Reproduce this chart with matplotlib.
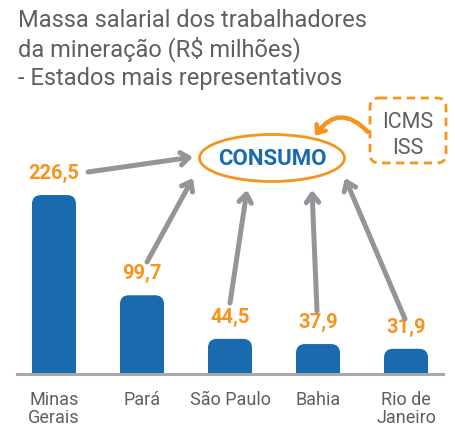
import matplotlib
matplotlib.use("Agg")
import matplotlib.pyplot as plt
from matplotlib.patches import FancyBboxPatch, Ellipse, FancyArrowPatch

categories = ["Minas\nGerais", "Pará", "São Paulo", "Bahia", "Rio de\nJaneiro"]
values = [226.5, 99.7, 44.5, 37.9, 31.9]
value_labels = ["226,5", "99,7", "44,5", "37,9", "31,9"]
title_lines = ["Massa salarial dos trabalhadores",
               "da mineração (R$ milhões)",
               "- Estados mais representativos"]

BLUE = "#1A6AB0"
ORANGE = "#F7941D"
GRAY_ARROW = "#939598"
GRAY_TEXT = "#5E5F61"
FONT = "Roboto"

W, H = 456, 432
fig = plt.figure(figsize=(W / 100, H / 100), dpi=100)
fig.patch.set_facecolor("white")

# data axes
base_px = 374
ax = fig.add_axes([17 / W, (H - base_px) / H, (443 - 17) / W, base_px / H])
ax.set_xlim(-0.42, 4.42)
ax.set_ylim(0, base_px / 0.79)
ax.set_facecolor("none")
for s in ["top", "right", "left"]:
    ax.spines[s].set_visible(False)
ax.spines["bottom"].set_color("#A7A9AC")
ax.spines["bottom"].set_linewidth(2.2)
ax.set_yticks([])

bw = 0.5
xunit = 88.0           # px per x unit
yunit = 1 / 0.79       # data per px
r_px = 9
bars = ax.bar(range(len(values)), values, width=bw, color="none")
for b in bars:
    x0 = b.get_x()
    h = b.get_height()
    p = FancyBboxPatch((x0, -30), bw, h + 30,
                       boxstyle=f"round,pad=0,rounding_size={r_px / xunit}",
                       mutation_aspect=(r_px * yunit) / (r_px / xunit),
                       facecolor=BLUE, edgecolor="none", clip_on=True)
    ax.add_patch(p)

for i, (v, lab) in enumerate(zip(values, value_labels)):
    ax.annotate(lab, (i, v), xytext=(0, 15.5), textcoords="offset points",
                ha="center", va="center", color=ORANGE, fontsize=14.5,
                fontweight="bold", family=FONT)

ax.set_xticks(range(len(categories)))
ax.set_xticklabels(categories, color=GRAY_TEXT, fontsize=13, family=FONT,
                   linespacing=1.0)
ax.tick_params(axis="x", length=0, pad=12)

# overlay in pixel coords
ov = fig.add_axes([0, 0, 1, 1])
ov.set_xlim(0, W)
ov.set_ylim(H, 0)
ov.axis("off")
ov.set_facecolor("none")

for k, line in enumerate(title_lines):
    ov.text(18, 27 + 29 * k, line, ha="left", va="baseline", color=GRAY_TEXT,
            fontsize=17, family=FONT)

ov.add_patch(Ellipse((272, 158), 145, 47, facecolor="none",
                     edgecolor=ORANGE, lw=2))
ov.text(272, 159, "CONSUMO", ha="center", va="center", color=BLUE,
        fontsize=16, fontweight="bold", family=FONT)

ov.add_patch(FancyBboxPatch((370, 98), 76, 65,
                            boxstyle="round,pad=0,rounding_size=9",
                            facecolor="none", edgecolor=ORANGE, lw=2,
                            linestyle=(0, (3, 2))))
ov.text(408, 123, "ICMS", ha="center", va="center", color=GRAY_TEXT,
        fontsize=15.5, family=FONT)
ov.text(408, 148, "ISS", ha="center", va="center", color=GRAY_TEXT,
        fontsize=15.5, family=FONT)

ov.add_patch(FancyArrowPatch((368, 132), (315, 136),
                             connectionstyle="arc3,rad=0.6",
                             arrowstyle="->,head_length=5,head_width=4",
                             color=ORANGE, lw=3.2, capstyle="round",
                             joinstyle="round", shrinkA=0, shrinkB=0))

arrows = [((88, 172), (193, 157)),
          ((147, 262), (193, 178)),
          ((230, 303), (247, 190)),
          ((317, 311), (312, 190)),
          ((405, 319), (345, 178))]
for (a, b) in arrows:
    ov.add_patch(FancyArrowPatch(a, b,
                                 arrowstyle="->,head_length=6,head_width=4.5",
                                 color=GRAY_ARROW, lw=3.6, capstyle="round",
                                 joinstyle="round", shrinkA=0, shrinkB=0))

fig.savefig("out.png", dpi=100, facecolor="white")
